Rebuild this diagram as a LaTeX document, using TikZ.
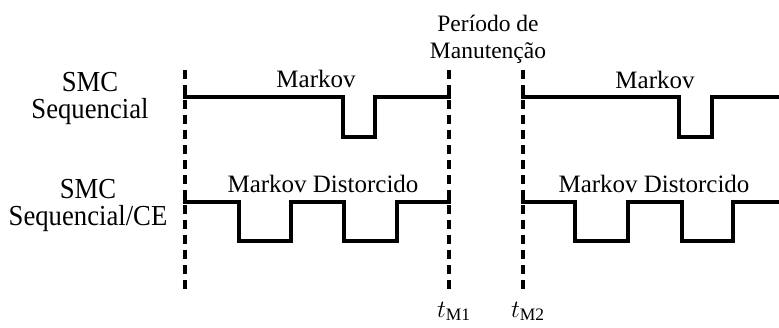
\documentclass[tikz,border=0pt]{standalone}
\usepackage{fontspec}
\setmainfont{Liberation Serif}
\newfontfamily\rowfont[FakeStretch=0.92]{Liberation Serif}
\usetikzlibrary{positioning}

\begin{document}
\begin{tikzpicture}[
  x=1pt, y=-1pt,
  every node/.append style={inner sep=0pt, outer sep=0pt},
  row/.style={font=\rowfont\fontsize{29}{27}\selectfont, align=center, anchor=base},
  lbl/.style={font=\fontsize{25}{27}\selectfont, align=center, anchor=base},
  sig/.style={line width=3.4pt, line join=miter},
  lim/.style={line width=3.2pt, dash pattern=on 9pt off 6pt},
]
\useasboundingbox (0,0) rectangle (779,327);

%% ─── time limits: start, t_M1, t_M2 ─────────────────────────────────────────
\coordinate (s0) at (185, 70);
\coordinate (m1) at (449, 70);
\coordinate (m2) at (523, 70);
\draw[lim] (s0) -- ++(0,223);
\draw[lim] (m1) -- ++(0,223);
\draw[lim] (m2) -- ++(0,223);
\node[lbl, anchor=base west] (tm1) at (437, 317) {$t_{\mathrm{M1}}$};
\node[lbl, anchor=base west] (tm2) at (511, 317) {$t_{\mathrm{M2}}$};
\node[lbl, font=\fontsize{23.5}{27}\selectfont] (pm) at (488, 58) {Período de\\Manutenção};

%% ─── row 1: SMC Sequencial ──────────────────────────────────────────────────
\node[row] (r1) at (90, 118) {SMC\\Sequencial};
\node[lbl] (k1a) at (316, 87) {Markov};
\node[lbl] (k1b) at (655, 88) {Markov};
\draw[sig] (185,89) -- (185,97) -- (343,97) -- (343,137) -- (375,137)
  -- (375,97) -- (449,97) -- (449,90);
\draw[sig] (523,89) -- (523,97) -- (679,97) -- (679,137) -- (712,137)
  -- (712,97) -- (779,97);

%% ─── row 2: SMC Sequencial/CE ───────────────────────────────────────────────
\node[row] (r2) at (88, 225) {SMC\\Sequencial/CE};
\node[lbl] (k2a) at (323, 192) {Markov Distorcido};
\node[lbl] (k2b) at (654, 192) {Markov Distorcido};
\draw[sig] (185,195) -- (185,202) -- (239,202) -- (239,241) -- (291,241)
  -- (291,202) -- (344,202) -- (344,241) -- (397,241) -- (397,202)
  -- (449,202) -- (449,196);
\draw[sig] (523,195) -- (523,202) -- (575,202) -- (575,241) -- (628,241)
  -- (628,202) -- (682,202) -- (682,241) -- (733,241) -- (733,202)
  -- (779,202);

\end{tikzpicture}
\end{document}
